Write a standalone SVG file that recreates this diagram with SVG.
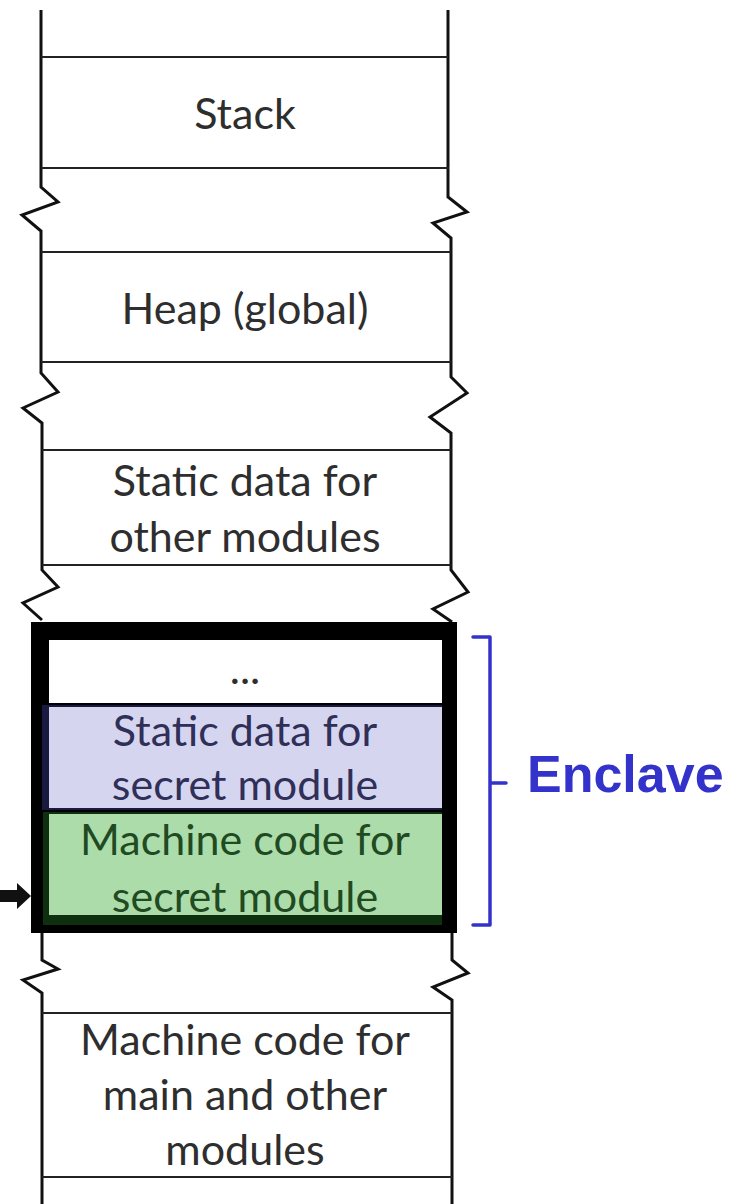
<svg xmlns="http://www.w3.org/2000/svg" width="742" height="1204" viewBox="0 0 742 1204">
  <style>
    .wall { fill: none; stroke: #111; stroke-width: 3; stroke-linejoin: miter; }
    .rule { stroke: #222; stroke-width: 2; }
    .lbl { font-family: Lato, "Liberation Sans", sans-serif; font-size: 43px; fill: #2e2e2e; text-anchor: middle; }
    .lbl-sec { fill: #2f2f58; }
    .lbl-code { fill: #1f4a22; }
    .brace { fill: none; stroke: #3333cc; stroke-width: 3.5; stroke-linecap: round; stroke-linejoin: round; }
  </style>
  <rect width="742" height="1204" fill="#ffffff"/>

  <!-- side walls of the address space, broken by zigzag gaps -->
  <g id="walls">
    <path class="wall" d="M41 10 V187 L58 202 L22 215 L41 231 V373 L58 392 L23 408 L42 423 V570 L58 587 L23 603 L42 620"/>
    <path class="wall" d="M448 10 V197 L467 212 L433 223 L451 238 V377 L467 393 L430 417 L451 433 V570 L468 592 L433 609 L452 622"/>
    <path class="wall" d="M42 933 V960 L58 969 L23 980 L42 993 V1204"/>
    <path class="wall" d="M452 933 V960 L468 973 L433 987 L452 1000 V1204"/>
  </g>

  <g id="stack">
    <line class="rule" x1="41" y1="57" x2="448" y2="57"/>
    <line class="rule" x1="41" y1="168" x2="449" y2="168"/>
    <text class="lbl" x="245" y="129">Stack</text>
  </g>

  <g id="heap">
    <line class="rule" x1="41" y1="252" x2="451" y2="252"/>
    <line class="rule" x1="41" y1="362" x2="451" y2="362"/>
    <text class="lbl" x="245" y="324">Heap (global)</text>
  </g>

  <g id="static-other">
    <line class="rule" x1="42" y1="450" x2="451" y2="450"/>
    <line class="rule" x1="42" y1="565" x2="451" y2="565"/>
    <text class="lbl" x="245" y="496">Static data for</text>
    <text class="lbl" x="245" y="552">other modules</text>
  </g>

  <!-- enclave: heavy frame around the secret module's region -->
  <g id="enclave-frame">
    <rect x="31" y="622" width="426" height="311" fill="#000"/>
  </g>

  <g id="enclave-misc">
    <rect x="49" y="640" width="393" height="63" fill="#ffffff"/>
    <text class="lbl" x="245" y="684">...</text>
  </g>

  <g id="secret-data">
    <rect x="42" y="705" width="400" height="105" fill="#1a1a40"/>
    <rect x="49" y="707" width="393" height="101" fill="#d5d5f0"/>
    <text class="lbl lbl-sec" x="245" y="746">Static data for</text>
    <text class="lbl lbl-sec" x="245" y="800">secret module</text>
  </g>

  <g id="secret-code">
    <rect x="43" y="812" width="399" height="113" fill="#0f300f"/>
    <rect x="49" y="814" width="393" height="101" fill="#acdcaa"/>
    <text class="lbl lbl-code" x="245" y="855">Machine code for</text>
    <text class="lbl lbl-code" x="245" y="912">secret module</text>
  </g>

  <g id="main-code">
    <line class="rule" x1="42" y1="1013" x2="452" y2="1013"/>
    <line class="rule" x1="42" y1="1177" x2="452" y2="1177"/>
    <text class="lbl" x="245" y="1055">Machine code for</text>
    <text class="lbl" x="245" y="1110">main and other</text>
    <text class="lbl" x="245" y="1165">modules</text>
  </g>

  <g id="enclave-label">
    <path class="brace" d="M473 637 H490 V925 H473 M490 783 H506"/>
    <text x="527" y="792" font-family="'Liberation Sans', Arial, sans-serif" font-weight="bold" font-size="52" fill="#3333cc">Enclave</text>
  </g>

  <!-- entry pointer into the secret code -->
  <g id="connectors">
    <path d="M0 890 H17 V883 L31 896 L17 909 V902 H0 Z" fill="#111"/>
  </g>
</svg>
